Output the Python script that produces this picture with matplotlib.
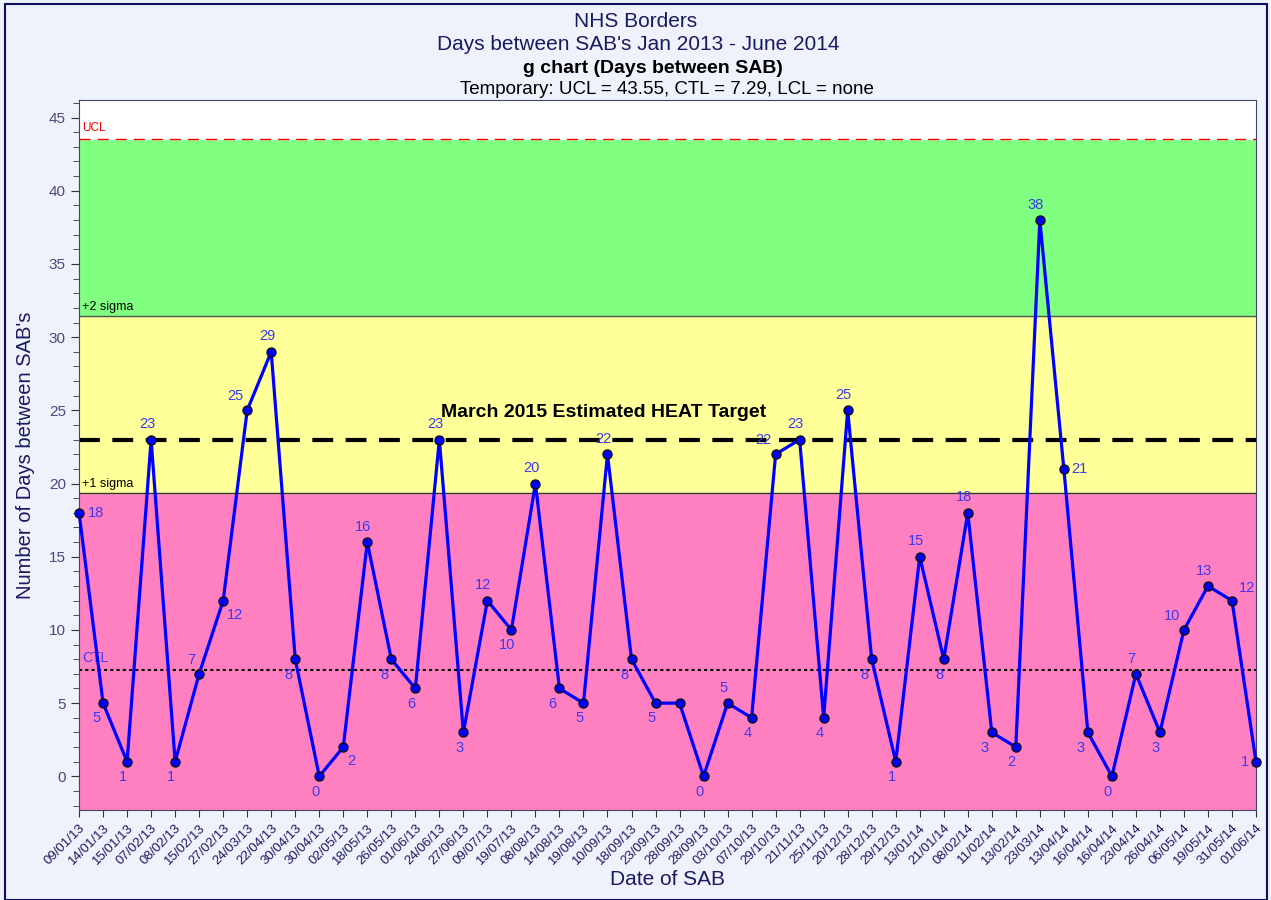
import matplotlib
matplotlib.use("Agg")
import matplotlib.pyplot as plt
from matplotlib.patches import Rectangle
from matplotlib.ticker import MultipleLocator

plt.rcParams["font.family"] = ["Liberation Sans", "DejaVu Sans"]

dates = [
    "09/01/13", "14/01/13", "15/01/13", "07/02/13", "08/02/13", "15/02/13", "27/02/13",
    "24/03/13", "22/04/13", "30/04/13", "30/04/13", "02/05/13", "18/05/13", "26/05/13",
    "01/06/13", "24/06/13", "27/06/13", "09/07/13", "19/07/13", "08/08/13", "14/08/13",
    "19/08/13", "10/09/13", "18/09/13", "23/09/13", "28/09/13", "28/09/13", "03/10/13",
    "07/10/13", "29/10/13", "21/11/13", "25/11/13", "20/12/13", "28/12/13", "29/12/13",
    "13/01/14", "21/01/14", "08/02/14", "11/02/14", "13/02/14", "23/03/14", "13/04/14",
    "16/04/14", "16/04/14", "23/04/14", "26/04/14", "06/05/14", "19/05/14", "31/05/14",
    "01/06/14",
]
days = [
    18, 5, 1, 23, 1, 7, 12, 25, 29, 8,
    0, 2, 16, 8, 6, 23, 3, 12, 10, 20,
    6, 5, 22, 8, 5, 5, 0, 5, 4, 22,
    23, 4, 25, 8, 1, 15, 8, 18, 3, 2,
    38, 21, 3, 0, 7, 3, 10, 13, 12, 1,
]

ucl = 43.55
ctl = 7.29
sigma1 = 19.38
sigma2 = 31.47
heat_target = 23

navy = "#1a1a5e"
lbl_col = "#3a3af0"

fig = plt.figure(figsize=(12.71, 9), dpi=100, facecolor="#eef2fb")
fig.patches.append(Rectangle((0.004, 0.0), 0.993, 0.996, transform=fig.transFigure,
                             fill=False, edgecolor="#10105a", linewidth=1.5))
ax = fig.add_axes([0.0622, 0.1, 0.9260, 0.7889])

ymin, ymax = -2.3, 46.2
n = len(days)
x = list(range(n))

# control bands
ax.axhspan(ymin, sigma1, color="#ff80c0", zorder=0)
ax.axhspan(sigma1, sigma2, color="#ffff99", zorder=0)
ax.axhspan(sigma2, ucl, color="#80ff80", zorder=0)
ax.axhspan(ucl, ymax, color="white", zorder=0)
ax.axhline(sigma1, color="#333333", lw=1, zorder=1)
ax.axhline(sigma2, color="#555555", lw=1, zorder=1)
ax.axhline(ucl, color="red", lw=1, ls=(0, (8, 5)), zorder=1)
ax.axhline(ctl, color="black", lw=1.5, ls=(0, (1.5, 1.5)), zorder=1)
ax.axhline(heat_target, color="black", lw=3, ls=(0, (5, 3)), zorder=2)

ax.text(0.12, ucl + 0.3, "UCL", color="red", fontsize=8.5, va="bottom")
ax.text(0.12, sigma2 + 0.2, "+2 sigma", color="black", fontsize=9, va="bottom")
ax.text(0.12, sigma1 + 0.2, "+1 sigma", color="black", fontsize=9, va="bottom")
ax.text(0.12, ctl + 0.3, "CTL", color=lbl_col, fontsize=10, va="bottom")
ax.text(21.85, heat_target + 1.3, "March 2015 Estimated HEAT Target", fontsize=14,
        fontweight="bold", ha="center", va="bottom")

ax.plot(x, days, color="#0000ff", lw=2.3, marker="o", markersize=6.5,
        markerfacecolor="#0000ff", markeredgecolor="#111111", markeredgewidth=1,
        zorder=4, clip_on=False)

# point labels
for i, v in enumerate(days):
    if i > 0 and v == days[i - 1] and 0 < i < n - 1 and days[i + 1] < v:
        continue
    if i == 0:
        dx, dy, ha, va = 6, 0, "left", "center"
    elif i == n - 1:
        dx, dy, ha, va = -5, 0, "right", "center"
    else:
        p, q = days[i - 1], days[i + 1]
        if v >= p and v >= q:
            dx, dy, ha, va = -3, 6, "center", "bottom"
        elif v <= p and v <= q:
            dx, dy, ha, va = -3, -6, "center", "top"
        elif p < v < q:
            if q - v > v - p:
                dx, dy, ha, va = 3, -5, "left", "top"
            else:
                dx, dy, ha, va = -3, 5, "right", "bottom"
        else:
            if v - q > p - v:
                dx, dy, ha, va = 5, (9 if p - v < 5 else 0), "left", "center"
            else:
                dx, dy, ha, va = -2, -6, "right", "top"
    ax.annotate(str(v), (i, v), xytext=(dx, dy), textcoords="offset points",
                ha=ha, va=va, color=lbl_col, fontsize=10.5, zorder=5)

ax.set_xlim(0, n - 1)
ax.set_ylim(ymin, ymax)
ax.set_xticks(x)
ax.set_xticklabels(dates, rotation=45, ha="right", rotation_mode="anchor",
                   fontsize=9.5, color=navy)
ax.yaxis.set_major_locator(MultipleLocator(5))
ax.yaxis.set_minor_locator(MultipleLocator(1))
ax.tick_params(axis="y", which="major", labelsize=11, labelcolor="#4a4a7a",
               color="#333333", length=6)
ax.tick_params(axis="y", which="minor", color="#333333", length=4)
ax.tick_params(axis="x", color="#333333", length=5)
for s in ax.spines.values():
    s.set_color("#444466")
ax.grid(False)

ax.set_ylabel("Number of Days between SAB's", fontsize=14.5, color=navy, labelpad=10)
ax.set_xlabel("Date of SAB", fontsize=15, color=navy, labelpad=2)

fig.text(0.5, 0.976, "NHS Borders", ha="center", va="center", fontsize=15, color=navy)
fig.text(0.502, 0.950, "Days between SAB's Jan 2013 - June 2014", ha="center", va="center",
         fontsize=15, color=navy)
fig.text(0.514, 0.924, "g chart (Days between SAB)", ha="center", va="center",
         fontsize=14, fontweight="bold", color="black")
fig.text(0.525, 0.901, "Temporary: UCL = 43.55, CTL = 7.29, LCL = none", ha="center",
         va="center", fontsize=13.5, color="black")

fig.savefig("out.png", dpi=100, facecolor=fig.get_facecolor())
